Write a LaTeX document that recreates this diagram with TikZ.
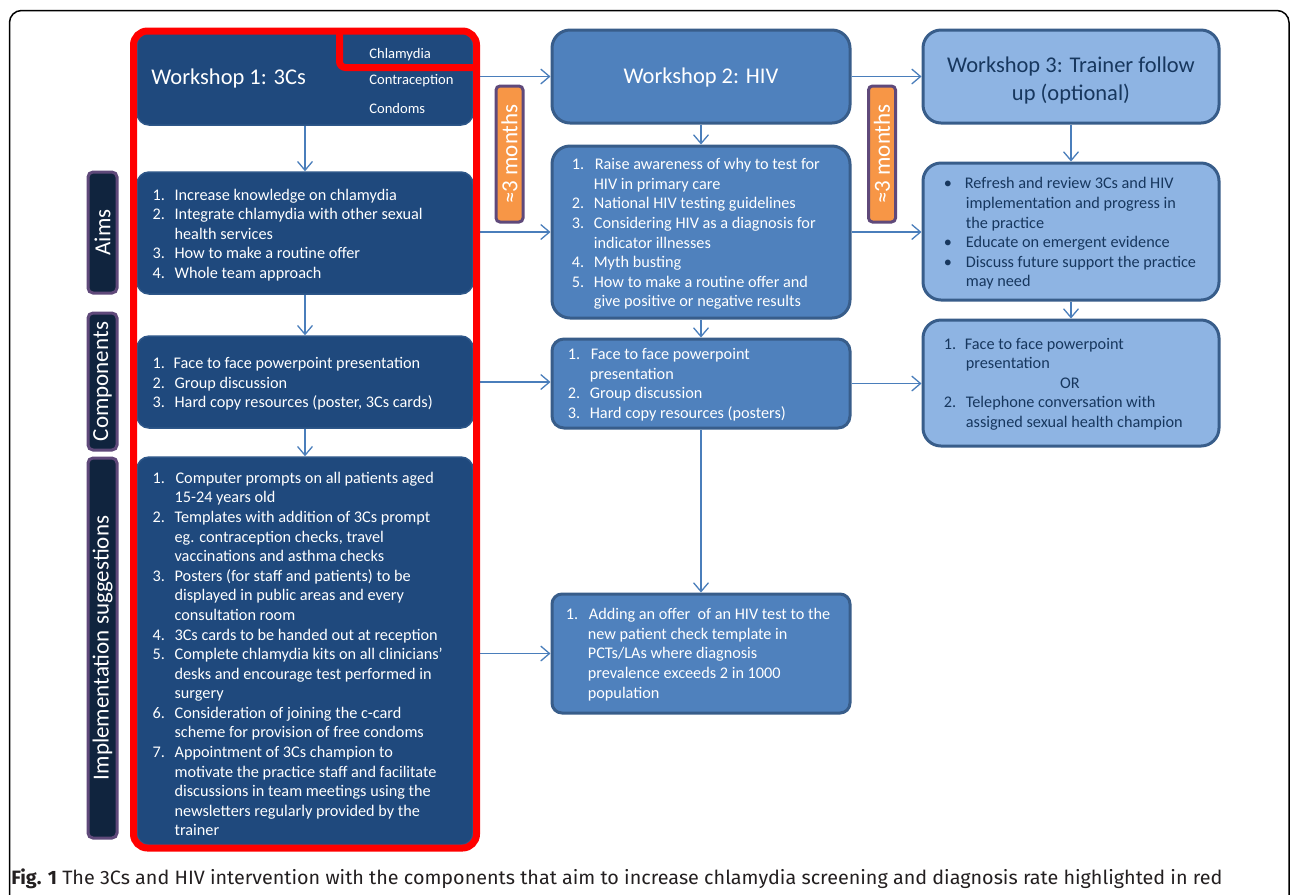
\documentclass[tikz,border=0pt]{standalone}
\usepackage{fontspec}
\setmainfont{Carlito}
\newfontfamily\capfont{Fira Sans}
\usetikzlibrary{arrows.meta}
\newdimen\pxu \pxu=0.02cm
\newdimen\liw \liw=22\pxu
\newcommand\nitem[1]{\makebox[\liw][l]{#1}}
\newcommand\ncont{\hspace*{\liw}}
\newcommand\bodyfont{\fontsize{9.25}{11.15}\selectfont}
\newcommand\titfont{\fontsize{12.8}{15.6}\selectfont}
\newcommand\labfont{\fontsize{13.1}{15}\selectfont}
\newcommand\smfont{\fontsize{8.3}{10}\selectfont}
\definecolor{dk}{HTML}{1F497D}
\definecolor{dkb}{HTML}{2E5789}
\definecolor{lab}{HTML}{10243E}
\definecolor{purp}{HTML}{5F497A}
\definecolor{org}{HTML}{F79646}
\definecolor{mid}{HTML}{4F81BD}
\definecolor{midb}{HTML}{385D8A}
\definecolor{lt}{HTML}{8EB4E3}
\definecolor{ltt}{HTML}{17375E}
\definecolor{arr}{HTML}{4A7EBB}
\definecolor{redh}{HTML}{FF0000}
\definecolor{capc}{HTML}{231F20}
\tikzset{
  dkbox/.style={draw=dkb, fill=dk, line width=1.5\pxu, rounded corners=12\pxu, inner sep=0pt},
  midbox/.style={draw=midb, fill=mid, line width=3\pxu, rounded corners=18\pxu, inner sep=0pt},
  ltbox/.style={draw=midb, fill=lt, line width=3\pxu, rounded corners=18\pxu, inner sep=0pt},
  txt/.style={anchor=west, align=left, inner sep=0pt, font=\bodyfont},
  wtxt/.style={txt, text=white},
  dtxt/.style={txt, text=ltt},
  lbl/.style={draw=purp, fill=lab, line width=3\pxu, rounded corners=5\pxu, rotate=90, text=white, font=\labfont, inner sep=0pt, minimum height=29\pxu},
  orgbox/.style={draw=purp, fill=org, line width=3\pxu, rounded corners=4\pxu, rotate=90, text=white, font=\labfont, inner sep=0pt, minimum height=27\pxu, minimum width=136\pxu},
  arrw/.style={draw=arr, line width=1.3\pxu, -{Straight Barb[length=5pt,width=8.5pt]}}
}
\begin{document}
\begin{tikzpicture}[x=0.02cm, y=-0.02cm]
\useasboundingbox (0,0) rectangle (1290,894);
\clip (0,0) rectangle (1290,894);
\fill[white] (0,0) rectangle (1290,894);
\draw[black, line width=1.5\pxu, rounded corners=12\pxu] (9.5,10.5) rectangle (1289,920);

% column 1
\node[dkbox, minimum width=336\pxu, minimum height=92\pxu] (w1) at (305,79) {};
\node[anchor=west, text=white, font=\titfont, inner sep=0pt] (t1) at (151,78) {Workshop 1: 3Cs};
\node[anchor=west, text=white, font=\smfont, inner sep=0pt] (cc1) at (369,55) {Chlamydia};
\node[anchor=west, text=white, font=\smfont, inner sep=0pt] (cc2) at (369,81) {Contraception};
\node[anchor=west, text=white, font=\smfont, inner sep=0pt] (cc3) at (369,108) {Condoms};

\node[dkbox, minimum width=336\pxu, minimum height=122\pxu] (a1) at (305,233) {};
\node[wtxt] (a1t) at ([xshift=16\pxu,yshift=-2\pxu]a1.west) {\liw=22\pxu
\nitem{1.}Increase knowledge on chlamydia\\
\nitem{2.}Integrate chlamydia with other sexual\\
\ncont health services\\
\nitem{3.}How to make a routine offer\\
\nitem{4.}Whole team approach};

\node[dkbox, minimum width=336\pxu, minimum height=92\pxu] (c1) at (305,382) {};
\node[wtxt] (c1t) at ([xshift=16\pxu,yshift=-2\pxu]c1.west) {\liw=21\pxu
\nitem{1.}Face to face powerpoint presentation\\
\nitem{2.}Group discussion\\
\nitem{3.}Hard copy resources (poster, 3Cs cards)};

\node[dkbox, minimum width=336\pxu, minimum height=388\pxu] (i1) at (305,651) {};
\node[wtxt] (i1t) at ([xshift=16\pxu,yshift=-3\pxu]i1.west) {\liw=23\pxu
\nitem{1.}Computer prompts on all patients aged\\
\ncont 15-24 years old\\
\nitem{2.}Templates with addition of 3Cs prompt\\
\ncont eg. contraception checks, travel\\
\ncont vaccinations and asthma checks\\
\nitem{3.}Posters (for staff and patients) to be\\
\ncont displayed in public areas and every\\
\ncont consultation room\\
\nitem{4.}3Cs cards to be handed out at reception\\
\nitem{5.}Complete chlamydia kits on all clinicians’\\
\ncont desks and encourage test performed in\\
\ncont surgery\\
\nitem{6.}Consideration of joining the c-card\\
\ncont scheme for provision of free condoms\\
\nitem{7.}Appointment of 3Cs champion to\\
\ncont motivate the practice staff and facilitate\\
\ncont discussions in team meetings using the\\
\ncont newsletters regularly provided by the\\
\ncont trainer};

% labels
\node[lbl, minimum width=121\pxu] (lA) at (102.5,232.5) {Aims};
\node[lbl, minimum width=137\pxu] (lC) at (102.5,381.5) {Components};
\node[lbl, minimum width=380\pxu] (lI) at (102.5,648) {Implementation suggestions};

% column 2
\node[midbox, minimum width=298\pxu, minimum height=93\pxu] (w2) at (701,76.5) {};
\node[anchor=center, text=white, font=\titfont, inner sep=0pt] (t2) at (701,77) {Workshop 2: HIV};
\node[midbox, minimum width=298\pxu, minimum height=172\pxu] (a2) at (701,232) {};
\node[wtxt] (a2t) at ([xshift=21\pxu,yshift=-2\pxu]a2.west) {\liw=23\pxu
\nitem{1.}Raise awareness of why to test for\\
\ncont HIV in primary care\\
\nitem{2.}National HIV testing guidelines\\
\nitem{3.}Considering HIV as a diagnosis for\\
\ncont indicator illnesses\\
\nitem{4.}Myth busting\\
\nitem{5.}How to make a routine offer and\\
\ncont give positive or negative results};
\node[midbox, minimum width=298\pxu, minimum height=89\pxu, rounded corners=12\pxu] (c2) at (701,383.5) {};
\node[wtxt] (c2t) at ([xshift=17\pxu,yshift=-1\pxu]c2.west) {\liw=23\pxu
\nitem{1.}Face to face powerpoint\\
\ncont presentation\\
\nitem{2.}Group discussion\\
\nitem{3.}Hard copy resources (posters)};
\node[midbox, minimum width=298\pxu, minimum height=119\pxu, rounded corners=10\pxu] (i2) at (701,653.5) {};
\node[wtxt] (i2t) at ([xshift=15\pxu,yshift=-1\pxu]i2.west) {\liw=23\pxu
\nitem{1.}Adding an offer~ of an HIV test to the\\
\ncont new patient check template in\\
\ncont PCTs/LAs where diagnosis\\
\ncont prevalence exceeds 2 in 1000\\
\ncont population};

% column 3
\node[ltbox, minimum width=296\pxu, minimum height=93\pxu] (w3) at (1071,76.5) {};
\node[anchor=center, align=center, text=ltt, inner sep=0pt, font={\fontsize{12.8}{28\pxu}\selectfont}] (t3) at (1071,80) {Workshop 3: Trainer follow\\up (optional)};
\node[ltbox, minimum width=296\pxu, minimum height=137\pxu] (a3) at (1071,231.5) {};
\node[dtxt] (a3t) at ([xshift=22\pxu,yshift=-2\pxu]a3.west) {\liw=21\pxu
\nitem{•}Refresh and review 3Cs and HIV\\
\ncont implementation and progress in\\
\ncont the practice\\
\nitem{•}Educate on emergent evidence\\
\nitem{•}Discuss future support the practice\\
\ncont may need};
\node[ltbox, minimum width=296\pxu, minimum height=126\pxu] (c3) at (1071,383) {};
\node[dtxt] (c3t) at ([xshift=22\pxu,yshift=-1\pxu]c3.west) {\liw=21\pxu
\nitem{1.}Face to face powerpoint\\
\ncont presentation\\
\makebox[252\pxu][c]{OR}\\
\nitem{2.}Telephone conversation with\\
\ncont assigned sexual health champion};

% interval boxes
\node[orgbox] (o1) at (509.5,154) {≈3 months};
\node[orgbox] (o2) at (882,154) {≈3 months};

% connectors
\draw[arrw] (w1.east |- w2.west) -- (w2.west);
\draw[arrw] (w2.east) -- (w3.west);
\draw[arrw] (a1.east |- a2.west) -- (a2.west);
\draw[arrw] (a2.east) -- (a3.west |- a2.east);
\draw[arrw] (c1.east) -- (c2.west |- c1.east);
\draw[arrw] (c2.east) -- (c3.west |- c2.east);
\draw[arrw] (i1.east |- i2.west) -- (i2.west);
\draw[arrw] (w1.south) -- (a1.north);
\draw[arrw] (a1.south) -- (c1.north);
\draw[arrw] (c1.south) -- (i1.north);
\draw[arrw] (w2.south) -- (a2.north);
\draw[arrw] (a2.south) -- (c2.north);
\draw[arrw] (c2.south) -- (i2.north);
\draw[arrw] (w3.south) -- (a3.north);
\draw[arrw] (a3.south) -- (c3.north);

% red highlight
\draw[redh, line width=7\pxu, rounded corners=14\pxu] (133.5,31) rectangle (476.5,848);
\draw[redh, line width=7\pxu, rounded corners=6\pxu] (339.5,31) -- (339.5,67.5) -- (476.5,67.5);

% caption
\node[anchor=base west, inner sep=0pt, text=capc] (cap) at (11,884) {\resizebox{1211\pxu}{\height}{\capfont\fontsize{11}{13}\selectfont\textbf{Fig. 1} The 3Cs and HIV intervention with the components that aim to increase chlamydia screening and diagnosis rate highlighted in red}};
\end{tikzpicture}
\end{document}
